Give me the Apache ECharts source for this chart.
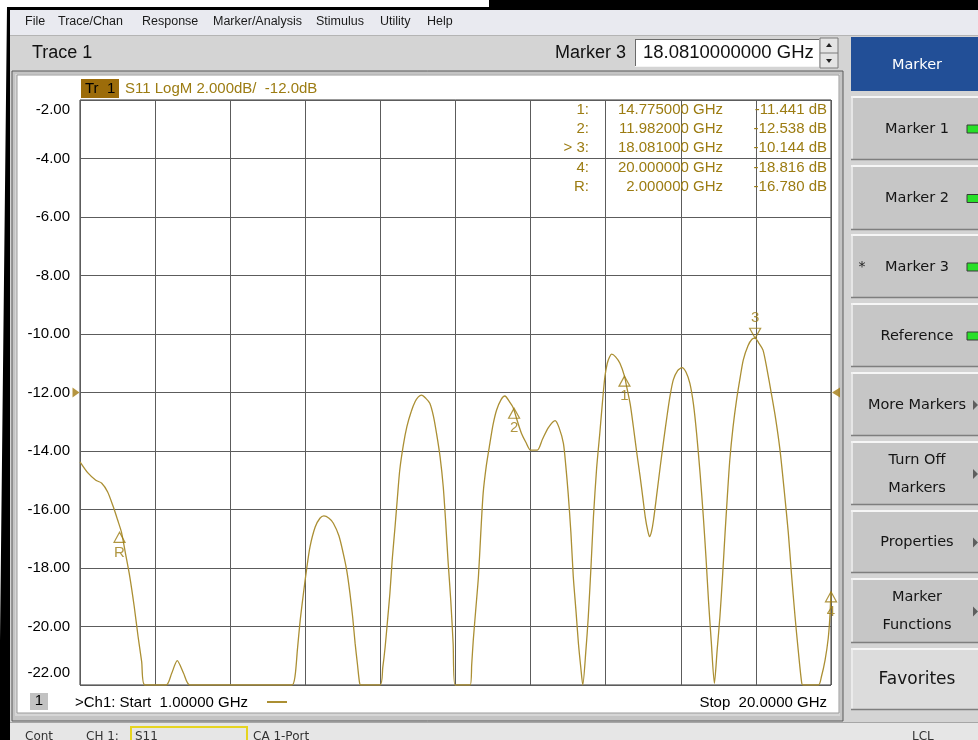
<!DOCTYPE html>
<html><head><meta charset="utf-8">
<script src="https://cdn.jsdelivr.net/npm/echarts@6/dist/echarts.min.js"></script>
<style>html,body{margin:0;padding:0;background:#fff;overflow:hidden}#c{width:978px;height:740px}</style>
</head><body><div id="c"></div>
<script>
// ---------------- data ----------------
const traceFreq = [1.00,1.20,1.40,1.55,1.70,1.84,1.95,2.05,2.15,2.26,2.37,2.47,2.56,2.64,3.18,3.32,3.46,3.62,3.78,6.36,6.44,6.50,6.57,6.65,6.73,6.82,6.95,7.07,7.17,7.30,7.41,7.55,7.66,7.75,7.83,7.90,7.96,8.02,8.07,8.10,8.59,8.66,8.72,8.78,8.84,8.90,8.97,9.03,9.09,9.18,9.27,9.38,9.48,9.56,9.64,9.75,9.85,9.94,10.02,10.11,10.19,10.25,10.31,10.38,10.44,10.49,10.87,10.91,10.95,11.02,11.08,11.14,11.20,11.28,11.37,11.45,11.54,11.65,11.75,11.86,11.96,12.07,12.17,12.28,12.40,12.57,12.70,12.85,13.02,13.12,13.23,13.29,13.35,13.42,13.48,13.55,13.61,13.67,13.72,13.80,13.86,13.93,13.99,14.07,14.15,14.22,14.28,14.34,14.40,14.45,14.55,14.66,14.775,14.83,14.92,15.00,15.08,15.17,15.24,15.30,15.36,15.41,15.46,15.51,15.60,15.68,15.77,15.85,15.93,16.01,16.12,16.23,16.33,16.43,16.52,16.60,16.69,16.77,16.84,16.90,16.97,17.05,17.12,17.19,17.26,17.32,17.38,17.44,17.52,17.61,17.70,17.78,17.90,18.00,18.081,18.17,18.28,18.38,18.49,18.60,18.71,18.82,18.92,19.00,19.09,19.17,19.26,19.30,19.68,19.76,19.85,19.93,19.97,20.00];
const traceDb = [-14.37,-14.75,-15.0,-15.1,-15.4,-15.9,-16.35,-16.78,-17.5,-18.3,-19.3,-20.35,-21.2,-22,-22,-21.6,-21.17,-21.6,-22,-22,-21.7,-20.8,-19.8,-18.9,-18.07,-17.27,-16.6,-16.3,-16.22,-16.3,-16.47,-16.9,-17.5,-18.1,-18.87,-19.7,-20.57,-21.3,-21.9,-22,-22,-21.4,-20.7,-19.8,-18.87,-17.7,-16.6,-15.6,-14.65,-13.8,-13.17,-12.65,-12.31,-12.15,-12.09,-12.2,-12.37,-12.8,-13.4,-14.2,-15.22,-16.4,-17.73,-19.1,-20.58,-22,-22,-21.3,-20.46,-19.3,-18.3,-16.8,-15.44,-14.5,-13.74,-13.1,-12.6,-12.25,-12.12,-12.3,-12.52,-13.0,-13.4,-13.7,-13.97,-13.97,-13.6,-13.2,-12.96,-13.2,-13.74,-14.5,-15.44,-16.8,-18.3,-19.5,-20.58,-21.4,-22,-20.8,-19.66,-17.9,-16.25,-14.6,-13.4,-12.3,-11.46,-11.0,-10.78,-10.69,-10.78,-11.0,-11.441,-11.8,-12.4,-13.17,-14.0,-14.87,-15.6,-16.25,-16.7,-16.93,-16.75,-16.36,-15.4,-14.53,-13.6,-12.82,-12.1,-11.57,-11.25,-11.15,-11.3,-11.69,-12.4,-13.4,-14.8,-16.25,-17.7,-19.1,-20.5,-21.94,-20.8,-19.66,-18.2,-16.8,-15.5,-14.3,-13.2,-12.26,-11.5,-10.89,-10.4,-10.18,-10.144,-10.3,-10.55,-11.2,-12.03,-12.9,-13.97,-15.4,-16.8,-18.2,-19.66,-20.8,-21.94,-22,-22,-21.7,-21.15,-20.4,-19.7,-18.816];
const markerNames = ['1','2','3','4','R'];
const markerRowLabels = ['1:','2:','> 3:','4:','R:'];
const markerFreq = [14.775, 11.982, 18.081, 20.000, 2.000];
const markerDb = [-11.441, -12.538, -10.144, -18.816, -16.780];
const activeMarker = '3';
const refLevel = -12;
const scalePerDiv = 2;
const yMin = -22, yMax = -2;
const startFreq = 1, stopFreq = 20;
const xDivisions = 10;
const menuItems = ['File','Trace/Chan','Response','Marker/Analysis','Stimulus','Utility','Help'];
const softkeyLabels = [['Marker'],['Marker 1'],['Marker 2'],['Marker 3'],['Reference'],['More Markers'],['Turn Off','Markers'],['Properties'],['Marker','Functions'],['Favorites']];
const statusTexts = ['Cont','CH 1:','S11','CA 1-Port','LCL'];

// ---------------- layout / style ----------------
const GOLD = '#9c7c12', TRACE = '#ab8f33';
const FA = '"Liberation Sans", Arial, sans-serif';
const FT = '"DejaVu Sans", Verdana, sans-serif';
const menuX = [25,58,142,213,316,380,427];
const skTop = [37,96,165,234,303,372,441,510,578,648];
const skBot = [91,160,230,298,367,436,505,573,643,710];
const statusX = [25,86,135,253,912];

const els = [];
function rect(x,y,w,h,fill,z,stroke,lw){els.push({type:'rect',z:z||-10,shape:{x,y,width:w,height:h},style:{fill,stroke:stroke||null,lineWidth:lw||1},silent:true});}
function line(x1,y1,x2,y2,stroke,lw,z){els.push({type:'line',z:z||-9,shape:{x1,y1,x2,y2},style:{stroke,lineWidth:lw||1},silent:true});}
function poly(pts,fill,z){els.push({type:'polygon',z:z||-9,shape:{points:pts},style:{fill},silent:true});}
function text(t,x,y,font,fill,align){els.push({type:'text',z:10,style:{text:t,x,y,font,fill,align:align||'left',textAlign:align||'left',verticalAlign:'middle',textVerticalAlign:'middle'},silent:true});}

// base
rect(0,0,978,740,'#ffffff',-20);
rect(10,10,968,730,'#d4d4d4',-19);
// menu bar
rect(10,10,968,25,'#e9eaf0',-18);
line(10,35.5,978,35.5,'#b4b4b4',1,-17);
menuItems.forEach((m,i)=>text(m,menuX[i],22,'12.5px '+FA,'#1a1a1a'));
// black frame
poly([[7,7],[489,7],[489,0],[978,0],[978,10],[10,10],[10,740],[0,740],[0,640]],'#000000',-5);
// toolbar
text('Trace 1',32,53,'18px '+FA,'#111');
text('Marker '+activeMarker,626,53,'18px '+FA,'#111','right');
rect(635,39,184,28,'#ffffff',-15);
line(635,39.5,819,39.5,'#6a6a6a',1,-14); line(635.5,39,635.5,67,'#6a6a6a',1,-14);
line(635,66.5,819,66.5,'#f4f4f4',1,-14);
text(markerFreq[markerNames.indexOf(activeMarker)].toFixed(10)+' GHz',643,53,'18.5px '+FA,'#111');
rect(820,38,18,30,'#e4e4e4',-15,'#7a7a7a',1);
line(820,53,838,53,'#7a7a7a',1,-14);
poly([[826,47],[832,47],[829,43]],'#222',-13);
poly([[826,59],[832,59],[829,63]],'#222',-13);
// plot panel frame
rect(12,71,831,650,'#c4c4c4',-16,'#5a5a5a',1);
rect(15,74,825,642,'#d6d6d6',-15);
rect(17,75,822,638,'#ffffff',-14,'#9a9a9a',1);
// status bar
rect(10,722,968,18,'#e6e6e6',-16);
line(10,722.5,978,722.5,'#a6a6a6',1,-15);
statusTexts.forEach((s,i)=>text(s,statusX[i],737,'12px '+FT,'#333'));
rect(131,727,116,16,null,-12,'#e6d420',2);
// softkeys
softkeyLabels.forEach((lab,i)=>{
  const y0=skTop[i], y1=skBot[i], h=y1-y0, cy=(y0+y1)/2+1;
  if(i===0){
    rect(851,y0,140,h,'#224f97',-12);
  } else {
    rect(851,y0,140,h,i===9?'#dcdcdc':'#c6c6c6',-12);
    line(851,y0+1,991,y0+1,'#f6f6f6',2,-11);
    line(852,y0,852,y1,'#f0f0f0',1.5,-11);
    line(851,y1-0.5,991,y1-0.5,'#7e7e7e',1.5,-11);
  }
  const col = i===0?'#ffffff':'#151515';
  const fs = i===9?'17px ':'14.5px ';
  if(lab.length===1) text(lab[0],917,cy,fs+FT,col,'center');
  else {text(lab[0],917,cy-14,fs+FT,col,'center'); text(lab[1],917,cy+14,fs+FT,col,'center');}
  if(i>=1&&i<=4){ rect(967,cy-4,12,8,'#28e028',-10,'#3a3a3a',1); }
  if(i>=5&&i<=8){ poly([[973,cy-5],[978,cy],[973,cy+5]],'#5e5e5e',-10); }
  if(i===3) text('*',862,cy,'14px '+FT,'#222','center');
});
// plot header
rect(81,79,38,19,'#9c6c0a',-8);
text('Tr  1',85,89,'15px '+FA,'#000');
text('S11 LogM '+scalePerDiv.toFixed(3)+'dB/  '+refLevel.toFixed(1)+'dB',125,89,'15px '+FA,GOLD);
// marker table
const rowY=[110,129,148,168,187];
markerNames.forEach((n,i)=>{
  text(markerRowLabels[i],589,rowY[i],'15px '+FA,GOLD,'right');
  text(markerFreq[i].toFixed(6)+' GHz',723,rowY[i],'15px '+FA,GOLD,'right');
  text(markerDb[i].toFixed(3)+' dB',827,rowY[i],'15px '+FA,GOLD,'right');
});
// bottom annotations
rect(30,693,18,17,'#c2c2c2',-8);
text('1',39,701,'15px '+FA,'#000','center');
text('>Ch1: Start  '+startFreq.toFixed(5)+' GHz',75,703,'15px '+FA,'#000');
line(267,702,287,702,TRACE,2,5);
text('Stop  '+stopFreq.toFixed(4)+' GHz',827,703,'15px '+FA,'#000','right');

// ---------------- chart ----------------
const traceData = traceFreq.map((f,i)=>[f,traceDb[i]]);
const normalMarkers=[], activeMarkers=[];
markerNames.forEach((n,i)=>{(n===activeMarker?activeMarkers:normalMarkers).push({name:n,value:[markerFreq[i],markerDb[i]]});});
const lblStyle={show:true,formatter:'{b}',color:GOLD,fontSize:15,fontFamily:FA};

const chart = echarts.init(document.getElementById('c'),null,{renderer:'canvas'});
chart.setOption({
  animation:false,
  backgroundColor:'#ffffff',
  graphic:{elements:els},
  grid:{left:80,top:100,width:751,height:585,show:true,borderColor:'#333',borderWidth:1,backgroundColor:'transparent'},
  xAxis:[
    {type:'value',min:startFreq,max:stopFreq,show:false},
    {type:'value',min:0,max:xDivisions,interval:1,position:'bottom',axisLine:{show:false},axisTick:{show:false},axisLabel:{show:false},splitLine:{show:true,lineStyle:{color:'#5c5c5c',width:1}}}
  ],
  yAxis:{type:'value',min:yMin,max:yMax,interval:scalePerDiv,axisLine:{show:false},axisTick:{show:false},
    splitLine:{show:true,lineStyle:{color:'#5c5c5c',width:1}},
    axisLabel:{margin:10,color:'#000',fontSize:15,fontFamily:FA,
      formatter:v=>{const s=v.toFixed(2); if(v===yMax) return '{t|'+s+'}'; if(v===yMin) return '{b|'+s+'}'; return s;},
      rich:{t:{padding:[20,0,0,0],color:'#000',fontSize:15,fontFamily:FA},b:{padding:[0,0,24,0],color:'#000',fontSize:15,fontFamily:FA}}}},
  series:[
    {type:'line',xAxisIndex:0,data:traceData,showSymbol:false,smooth:0.25,lineStyle:{color:TRACE,width:1.3},z:3},
    {type:'scatter',xAxisIndex:0,data:normalMarkers,clip:false,symbol:'path://M5,0L10,9L0,9Z',symbolSize:[11,10],symbolOffset:[0,5],
      itemStyle:{color:'rgba(0,0,0,0)',borderColor:GOLD,borderWidth:1.2},label:Object.assign({position:'bottom',distance:2},lblStyle),z:5},
    {type:'scatter',xAxisIndex:0,data:activeMarkers,clip:false,symbol:'path://M0,0L10,0L5,9Z',symbolSize:[11,10],symbolOffset:[0,-5],
      itemStyle:{color:'rgba(0,0,0,0)',borderColor:GOLD,borderWidth:1.2},label:Object.assign({position:'top',distance:2},lblStyle),z:5},
    {type:'scatter',xAxisIndex:0,data:[[startFreq,refLevel]],clip:false,symbol:'path://M0,0L8,5L0,10Z',symbolSize:[7,10],symbolOffset:[-4,0],itemStyle:{color:'#a27a10'},z:6},
    {type:'scatter',xAxisIndex:0,data:[[stopFreq,refLevel]],clip:false,symbol:'path://M8,0L0,5L8,10Z',symbolSize:[8,10],symbolOffset:[5,0],itemStyle:{color:'#a27a10'},z:6}
  ]
});
</script></body></html>
